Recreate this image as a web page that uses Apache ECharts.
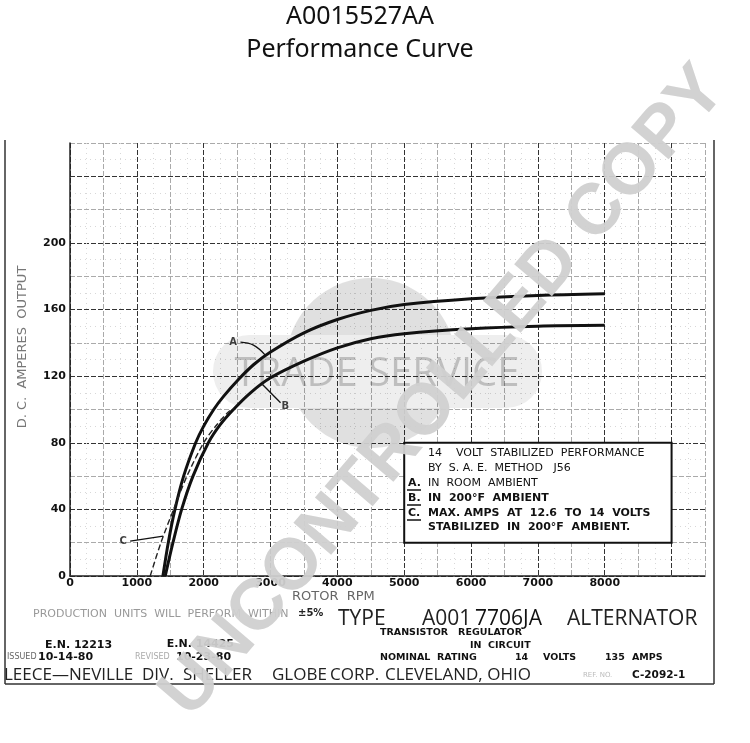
<!DOCTYPE html>
<html><head><meta charset="utf-8">
<script src="https://cdn.jsdelivr.net/npm/echarts@6/dist/echarts.min.js"></script>
<style>html,body{margin:0;padding:0;background:#fff}#c{width:750px;height:743px}</style>
</head><body><div id="c"></div>
<script>
// ---- data ----
const titleLines = ['A0015527AA', 'Performance Curve'];
const xTickLabels = [0, 1000, 2000, 3000, 4000, 5000, 6000, 7000, 8000];
const yTickLabels = [0, 40, 80, 120, 160, 200];
const rpmA  = [1390, 1470, 1570, 1700, 1880, 2000, 2150, 2300, 2520, 2750, 3000, 3500, 4000, 4500, 5000, 6000, 7000, 8000];
const ampsA = [0, 20, 40, 60, 80, 90, 100, 108, 118, 127, 134.5, 146, 154, 159.5, 163, 166.5, 168.5, 169.5];
const rpmB  = [1425, 1540, 1670, 1840, 2070, 2250, 2445, 2700, 3000, 3500, 4000, 4500, 5000, 6000, 7000, 8000];
const ampsB = [0, 20, 40, 60, 80, 91, 100, 110, 119, 129, 137, 142.5, 145.5, 148.5, 150, 150.5];
const rpmC  = [1200, 1360, 1550, 1750, 2000, 2200, 2370, 2450];
const ampsC = [0, 20, 40, 60, 80, 91, 98.5, 100.5];
const curveNames = ['A', 'B', 'C'];
const labelRpm  = [2440, 3220, 795];
const labelAmps = [140, 102, 20.5];
const leaderA = [[2550, 140.4], [2745, 138.6], [2925, 132.5]];
const leaderB = [[3150, 104], [2880, 115]];
const leaderC = [[900, 21], [1395, 24]];
const boxCorners = [[5000, 80], [9000, 20]];
const boxLines = ['14    VOLT  STABILIZED  PERFORMANCE', 'BY  S. A. E.  METHOD   J56', 'IN  ROOM  AMBIENT', 'IN  200°F  AMBIENT', 'MAX. AMPS  AT  12.6  TO  14  VOLTS', 'STABILIZED  IN  200°F  AMBIENT.'];
const boxKeys = ['A.', 'B.', 'C.'];

const pairs = (xs, ys) => xs.map((x, i) => [x, ys[i]]);
const chart = echarts.init(document.getElementById('c'));
const F = '"DejaVu Sans", sans-serif';
const O = '"Open Sans", sans-serif';
const T = (x, y, text, font, fill, align, extra) => Object.assign({
  type: 'text', x: x, y: y, z: 20,
  style: { text: text, font: font, fill: fill || '#111', align: align || 'left', textAlign: align || 'left', verticalAlign: 'middle', textVerticalAlign: 'middle' }
}, extra || {});
const L = (x1, y1, x2, y2, w, c, z) => ({ type: 'line', z: z || 20, shape: { x1: x1, y1: y1, x2: x2, y2: y2 }, style: { stroke: c || '#222', lineWidth: w || 1 } });
// circle segment (logo geometry) above or below a chord
function segment(cx, cy, r, chordY, above) {
  const pts = [];
  const a0 = Math.asin((chordY - cy) / r);
  for (let i = 0; i <= 60; i++) {
    let ang;
    if (above) ang = (Math.PI - a0) + (i / 60) * ((2 * Math.PI + a0) - (Math.PI - a0));
    else ang = a0 + (i / 60) * ((Math.PI - a0) - a0);
    pts.push([cx + r * Math.cos(ang), cy + r * Math.sin(ang)]);
  }
  return pts;
}

const graphics = [
  T(360, 17, titleLines[0], '25px "Noto Sans", sans-serif', '#111', 'center'),
  T(360, 50, titleLines[1], '25px "Noto Sans", sans-serif', '#111', 'center'),
  // page frame
  L(5, 140, 5, 684, 1.5, '#333'), L(714, 140, 714, 684, 1.5, '#333'), L(5, 684, 714, 684, 1.5, '#333'),
  // axis names
  T(23, 347, 'D. C.  AMPERES  OUTPUT', '13px ' + F, '#777', 'center', { rotation: Math.PI / 2 }),
  T(292, 597, 'ROTOR  RPM', '13px ' + F, '#666', 'left'),
  // trade service logo
  { type: 'polygon', z: 1, shape: { points: segment(371, 363, 85, 335, true) }, style: { fill: 'rgba(0,0,0,0.12)' } },
  { type: 'polygon', z: 1, shape: { points: segment(371, 363, 85, 408, false) }, style: { fill: 'rgba(0,0,0,0.12)' } },
  { type: 'rect', z: 1, shape: { x: 213, y: 335, width: 329, height: 73, r: 36 }, style: { fill: 'rgba(0,0,0,0.065)' } },
  T(377, 375, 'TRADE SERVICE', '40px "Open Sans", sans-serif', 'rgba(0,0,0,0.2)', 'center', { z: 1 }),
  // legend box text
  T(428, 453, boxLines[0], '11px ' + F, '#111'),
  T(428, 468, boxLines[1], '11px ' + F, '#111'),
  T(428, 483, boxLines[2], '11px ' + F, '#111'),
  T(428, 498, boxLines[3], 'bold 11px ' + F, '#111'),
  T(428, 513, boxLines[4], 'bold 11px ' + F, '#111'),
  T(428, 527, boxLines[5], 'bold 11px ' + F, '#111'),
  T(408, 483, boxKeys[0], 'bold 11px ' + F, '#111'),
  T(408, 498, boxKeys[1], 'bold 11px ' + F, '#111'),
  T(408, 513, boxKeys[2], 'bold 11px ' + F, '#111'),
  L(407, 490, 421, 490, 1.5, '#111'), L(407, 505, 421, 505, 1.5, '#111'), L(407, 520, 421, 520, 1.5, '#111'),
  // footer
  T(33, 614, 'PRODUCTION  UNITS  WILL  PERFORM  WITHIN', '11px ' + F, '#999'),
  T(298, 613, '±5%', 'bold 10px ' + F, '#222'),
  T(338, 619, 'TYPE', '21px ' + O, '#222'),
  T(422, 619, 'A001', '21px ' + O, '#222'),
  T(475, 619, '7706JA', '21px ' + O, '#111'),
  T(567, 619, 'ALTERNATOR', '21px ' + O, '#222'),
  T(380, 633, 'TRANSISTOR   REGULATOR', 'bold 9.5px ' + F, '#111'),
  T(470, 646, 'IN  CIRCUIT', 'bold 9.5px ' + F, '#111'),
  T(380, 658, 'NOMINAL  RATING', 'bold 9.5px ' + F, '#111'),
  T(515, 658, '14', 'bold 9.5px ' + F, '#111'),
  T(543, 658, 'VOLTS', 'bold 9.5px ' + F, '#111'),
  T(605, 658, '135', 'bold 9.5px ' + F, '#111'),
  T(632, 658, 'AMPS', 'bold 9.5px ' + F, '#111'),
  T(45, 645, 'E.N. 12213', 'bold 11px ' + F, '#111'),
  T(7, 657, 'ISSUED', '8px ' + F, '#666'),
  T(38, 657, '10-14-80', 'bold 11px ' + F, '#111'),
  T(135, 657, 'REVISED', '8px ' + F, '#aaa'),
  T(234, 644, 'E.N. 14425', 'bold 11px ' + F, '#111', 'right'),
  T(176, 657, '10-23-80', 'bold 11px ' + F, '#111'),
  T(4, 675, 'LEECE—NEVILLE', '17px ' + O, '#222'),
  T(142, 675, 'DIV.', '17px ' + O, '#222'),
  T(183, 675, 'SHELLER', '17px ' + O, '#222'),
  T(272, 675, 'GLOBE', '17px ' + O, '#222'),
  T(330, 675, 'CORP.', '17px ' + O, '#222'),
  T(385, 675, 'CLEVELAND, OHIO', '17px ' + O, '#222'),
  T(583, 675, 'REF. NO.', '7px ' + F, '#bbb'),
  T(632, 675, 'C-2092-1', 'bold 10.5px ' + F, '#111'),
  // watermark
  T(444, 392, 'UNCONTROLLED COPY', 'bold 72px "Liberation Sans", sans-serif', 'rgba(208,208,208,0.95)', 'center', { z: 100, rotation: 49.5 * Math.PI / 180 })
];

const leaderStyle = { color: '#111', width: 1.3 };
chart.setOption({
  animation: false,
  backgroundColor: '#fff',
  grid: { left: 70, right: 45, top: 143, bottom: 167 },
  xAxis: {
    type: 'value', min: 0, max: 9500, interval: 500,
    axisLine: { show: true, onZero: false, lineStyle: { color: '#222', width: 1.5 } },
    axisTick: { show: false },
    axisLabel: {
      margin: 2, fontFamily: 'DejaVu Sans', fontWeight: 'bold', fontSize: 11, color: '#111',
      formatter: v => xTickLabels.indexOf(v) >= 0 ? String(v) : ''
    },
    splitLine: { show: true, lineStyle: { color: ['#333', '#aaa'], type: [5, 2], width: 1 } },
    minorTick: { show: false, splitNumber: 2 },
    minorSplitLine: { show: true, lineStyle: { color: '#d8d8d8', type: [1, 4], width: 1 } }
  },
  yAxis: {
    type: 'value', min: 0, max: 260, interval: 20,
    axisLine: { show: true, lineStyle: { color: '#222', width: 1.5 } },
    axisTick: { show: false },
    axisLabel: {
      margin: 4, fontFamily: 'DejaVu Sans', fontWeight: 'bold', fontSize: 11, color: '#111',
      formatter: v => yTickLabels.indexOf(v) >= 0 ? String(v) : ''
    },
    splitLine: { show: true, lineStyle: { color: ['#333', '#aaa'], type: [5, 2], width: 1 } },
    minorTick: { show: false, splitNumber: 2 },
    minorSplitLine: { show: true, lineStyle: { color: '#d8d8d8', type: [1, 4], width: 1 } }
  },
  series: [
    { name: curveNames[0], type: 'line', data: pairs(rpmA, ampsA), smooth: 0.3, symbol: 'none', z: 5,
      lineStyle: { color: '#111', width: 3 },
      markArea: { silent: true, itemStyle: { color: '#fff', borderColor: '#111', borderWidth: 2 },
        data: [[{ coord: boxCorners[0] }, { coord: boxCorners[1] }]] } },
    { name: curveNames[1], type: 'line', data: pairs(rpmB, ampsB), smooth: 0.3, symbol: 'none', z: 5,
      lineStyle: { color: '#111', width: 3 } },
    { name: curveNames[2], type: 'line', data: pairs(rpmC, ampsC), smooth: 0.3, symbol: 'none', z: 5,
      lineStyle: { color: '#222', width: 1.4, type: [6, 3] } },
    { type: 'line', data: leaderA, smooth: 0.4, symbol: 'none', z: 5, lineStyle: leaderStyle },
    { type: 'line', data: leaderB, symbol: 'none', z: 5, lineStyle: leaderStyle },
    { type: 'line', data: leaderC, symbol: 'none', z: 5, lineStyle: leaderStyle },
    { type: 'scatter', symbolSize: 0, z: 6,
      data: labelRpm.map((x, i) => ({ value: [x, labelAmps[i]], label: { show: true, formatter: curveNames[i] } })),
      label: { position: 'inside', fontFamily: 'DejaVu Sans', fontWeight: 'bold', fontSize: 10, color: '#111' } }
  ],
  graphic: { elements: graphics }
});
</script></body></html>
